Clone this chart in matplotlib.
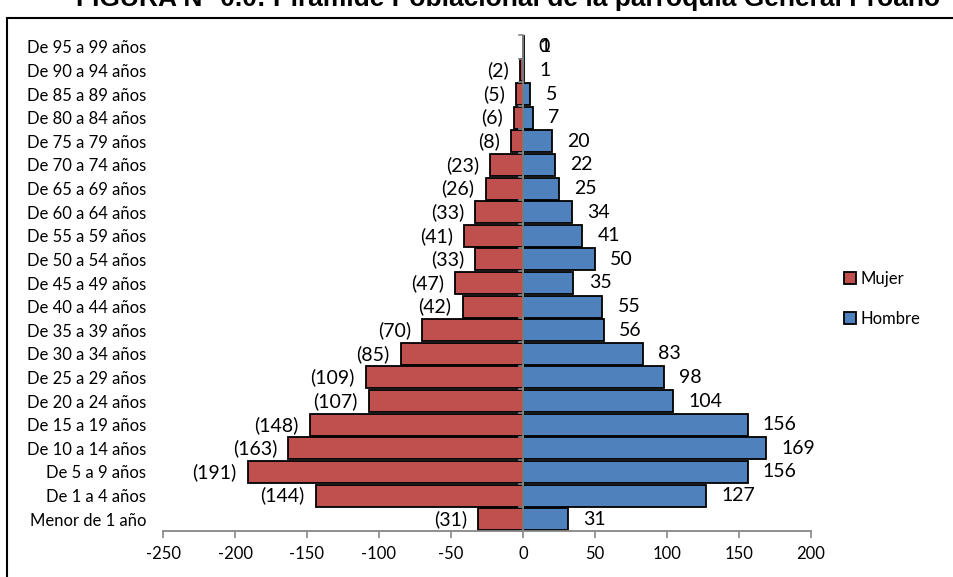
import matplotlib
matplotlib.use("Agg")
import matplotlib.pyplot as plt
from matplotlib.patches import Rectangle, Patch
import numpy as np

categories = ["Menor de 1 año", "De 1 a 4 años", "De 5 a 9 años", "De 10 a 14 años",
              "De 15 a 19 años", "De 20 a 24 años", "De 25 a 29 años", "De 30 a 34 años",
              "De 35 a 39 años", "De 40 a 44 años", "De 45 a 49 años", "De 50 a 54 años",
              "De 55 a 59 años", "De 60 a 64 años", "De 65 a 69 años", "De 70 a 74 años",
              "De 75 a 79 años", "De 80 a 84 años", "De 85 a 89 años", "De 90 a 94 años",
              "De 95 a 99 años"]
mujer = [31, 144, 191, 163, 148, 107, 109, 85, 70, 42, 47, 33, 41, 33, 26, 23, 8, 6, 5, 2, 0]
hombre = [31, 127, 156, 169, 156, 104, 98, 83, 56, 55, 35, 50, 41, 34, 25, 22, 20, 7, 5, 1, 1]
xticks = [-250, -200, -150, -100, -50, 0, 50, 100, 150, 200]
title = "FIGURA N° 0.0: Pirámide Poblacional de la parroquia General Proaño"

RED = "#C0504D"
BLUE = "#4F81BD"
GRAY = "#868686"
FONT = ["Lato", "DejaVu Sans"]

fig = plt.figure(figsize=(9.54, 5.77), dpi=100)
W, H = 954, 577
ax = fig.add_axes([163 / W, 1 - 531 / H, (811 - 163) / W, (531 - 35) / H])

y = np.arange(len(categories))
ax.barh(y, [-v for v in mujer], height=0.93, color=RED, edgecolor="black", linewidth=1.3, label="Mujer", zorder=2)
ax.barh(y, hombre, height=0.93, color=BLUE, edgecolor="black", linewidth=1.3, label="Hombre", zorder=2)

for yi, m, h in zip(y, mujer, hombre):
    if m == 0:
        ax.annotate("0", (0, yi), xytext=(11, 0), textcoords="offset points",
                    ha="left", va="center", fontsize=14, family=FONT)
    else:
        ax.annotate(f"({m})", (-m, yi), xytext=(-8, 0), textcoords="offset points",
                    ha="right", va="center", fontsize=14, family=FONT)
    ax.annotate(f"{h}", (h, yi), xytext=(11, 0), textcoords="offset points",
                ha="left", va="center", fontsize=14, family=FONT)

ax.set_xlim(-250, 200)
ax.set_ylim(-0.5, len(categories) - 0.5)
ax.set_xticks(xticks)
ax.set_xticklabels([str(t) for t in xticks], family=FONT, fontsize=12)
ax.set_yticks(y)
ax.set_yticklabels(categories, family=FONT, fontsize=12)
ax.tick_params(axis="y", length=0, pad=12)
ax.tick_params(axis="x", length=5, width=1.2, color=GRAY, pad=6)

for s in ["top", "right", "left"]:
    ax.spines[s].set_visible(False)
ax.spines["bottom"].set_color(GRAY)
ax.spines["bottom"].set_linewidth(1.3)
ax.axvline(0, color=GRAY, linewidth=1.3, zorder=3)
for yi in np.arange(-0.5, len(categories), 1.0):
    ax.plot([-2.5, 0], [yi, yi], color=GRAY, linewidth=1.2, zorder=3, clip_on=False)

handles = [Patch(facecolor=RED, edgecolor="black", linewidth=1.3, label="Mujer"),
           Patch(facecolor=BLUE, edgecolor="black", linewidth=1.3, label="Hombre")]
fig.legend(handles=handles, loc="upper left", bbox_to_anchor=(829 / W, 1 - 256 / H),
           frameon=False, prop={"family": FONT, "size": 12}, handlelength=0.7,
           handleheight=0.7, handletextpad=0.3, labelspacing=1.45)

fig.add_artist(Rectangle((7 / W, -0.1), 2, 1 - 18 / H + 0.1, transform=fig.transFigure,
                         fill=False, edgecolor="black", linewidth=1.5))
fig.text(508 / W, 1 - 6 / H, title, ha="center", va="baseline", fontsize=19,
         fontweight="bold", family=["Liberation Sans", "DejaVu Sans"])

fig.savefig("out.png", dpi=100)
